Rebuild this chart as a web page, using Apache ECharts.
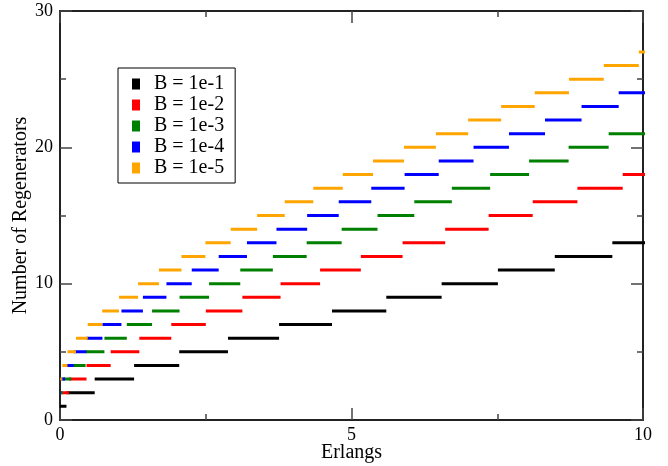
<!DOCTYPE html>
<html>
<head>
<meta charset="utf-8">
<script src="https://cdn.jsdelivr.net/npm/echarts@6/dist/echarts.min.js"></script>
<style>html,body{margin:0;padding:0;background:#fff}#c{width:668px;height:466px}</style>
</head>
<body>
<div id="c"></div>
<script>
// Traffic (Erlangs) at which each number of regenerators N (index) stops being sufficient
const seriesNames = ['B = 1e-1', 'B = 1e-2', 'B = 1e-3', 'B = 1e-4', 'B = 1e-5'];
const seriesColors = ['#000000', '#ff0000', '#008000', '#0000ff', '#ffa500'];
const capB1 = [0, 0.111, 0.595, 1.271, 2.045, 2.881, 3.758, 4.666, 5.597, 6.546, 7.511, 8.487, 9.474, 10.470];
const capB2 = [0, 0.0101, 0.153, 0.455, 0.869, 1.361, 1.909, 2.501, 3.128, 3.783, 4.461, 5.160, 5.876, 6.607, 7.352, 8.108, 8.875, 9.652, 10.437];
const capB3 = [0, 0.001, 0.0458, 0.194, 0.439, 0.762, 1.146, 1.579, 2.051, 2.557, 3.092, 3.651, 4.231, 4.831, 5.446, 6.077, 6.721, 7.378, 8.046, 8.724, 9.411, 10.108];
const capB4 = [0, 0.0001, 0.0142, 0.0868, 0.235, 0.452, 0.728, 1.054, 1.422, 1.826, 2.260, 2.722, 3.207, 3.713, 4.239, 4.781, 5.339, 5.911, 6.496, 7.093, 7.701, 8.319, 8.946, 9.583, 10.227];
const capB5 = [0, 0.00001, 0.0045, 0.0397, 0.1285, 0.275, 0.476, 0.724, 1.013, 1.339, 1.697, 2.083, 2.494, 2.928, 3.382, 3.855, 4.345, 4.850, 5.369, 5.901, 6.447, 7.001, 7.567, 8.143, 8.730, 9.327, 9.928, 10.534];
const xTicks = [0, 5, 10];
const yTicks = [0, 10, 20, 30];

const caps = [capB1, capB2, capB3, capB4, capB5];
function segments(cap) {
  const out = [];
  for (let n = 1; n < cap.length; n++) {
    out.push([cap[n - 1], n], [cap[n], n], ['-', '-']);
  }
  return out;
}
const FONT = '"Liberation Serif", "Times New Roman", serif';
const axisCommon = {
  type: 'value',
  axisLine: { show: true, onZero: false, lineStyle: { color: '#222', width: 2 } },
  axisTick: { show: true, inside: true, length: 12, lineStyle: { color: '#444', width: 1.5 } },
  minorTick: { show: true, splitNumber: 2, length: 6, lineStyle: { color: '#444', width: 1.5 } },
  splitLine: { show: false },
  minorSplitLine: { show: false }
};
const chart = echarts.init(document.getElementById('c'), null, { renderer: 'canvas' });
chart.setOption({
  animation: false,
  backgroundColor: '#fff',
  grid: { left: 60, right: 25, top: 11, bottom: 46, containLabel: false, outerBoundsMode: 'none' },
  legend: {
    orient: 'vertical',
    left: 118, top: 68,
    icon: 'rect',
    itemWidth: 8, itemHeight: 11,
    itemGap: 1,
    padding: [6, 11, 5, 14],
    borderColor: '#000', borderWidth: 1,
    backgroundColor: '#fff',
    selectedMode: false,
    textStyle: { fontFamily: FONT, fontSize: 20, color: '#000', padding: [0, 0, 0, 9] },
    data: seriesNames
  },
  xAxis: [
    Object.assign({}, axisCommon, {
      position: 'bottom', min: xTicks[0], max: xTicks[xTicks.length - 1], interval: 5,
      axisLabel: { show: true, margin: 6, color: '#000', fontFamily: FONT, fontSize: 18 },
      name: 'Erlangs', nameLocation: 'middle', nameGap: 23, nameMoveOverlap: false,
      nameTextStyle: { color: '#000', fontFamily: FONT, fontSize: 20 }
    }),
    Object.assign({}, axisCommon, {
      position: 'top', min: xTicks[0], max: xTicks[xTicks.length - 1], interval: 5,
      axisLabel: { show: false }
    })
  ],
  yAxis: [
    Object.assign({}, axisCommon, {
      position: 'left', min: yTicks[0], max: yTicks[yTicks.length - 1], interval: 10,
      axisLabel: { show: true, margin: 7, color: '#000', fontFamily: FONT, fontSize: 18 },
      name: 'Number of Regenerators', nameLocation: 'middle', nameGap: 29.5, nameRotate: 90, nameMoveOverlap: false,
      nameTextStyle: { color: '#000', fontFamily: FONT, fontSize: 20 }
    }),
    Object.assign({}, axisCommon, {
      position: 'right', min: yTicks[0], max: yTicks[yTicks.length - 1], interval: 10,
      axisLabel: { show: false }
    })
  ],
  series: caps.map((cap, i) => ({
    name: seriesNames[i],
    type: 'line',
    xAxisIndex: 0, yAxisIndex: 0,
    data: segments(cap),
    showSymbol: false, symbol: 'none',
    connectNulls: false,
    clip: true,
    itemStyle: { color: seriesColors[i] },
    lineStyle: { color: seriesColors[i], width: 3, cap: 'butt' },
    emphasis: { disabled: true }
  }))
});
</script>
</body>
</html>
